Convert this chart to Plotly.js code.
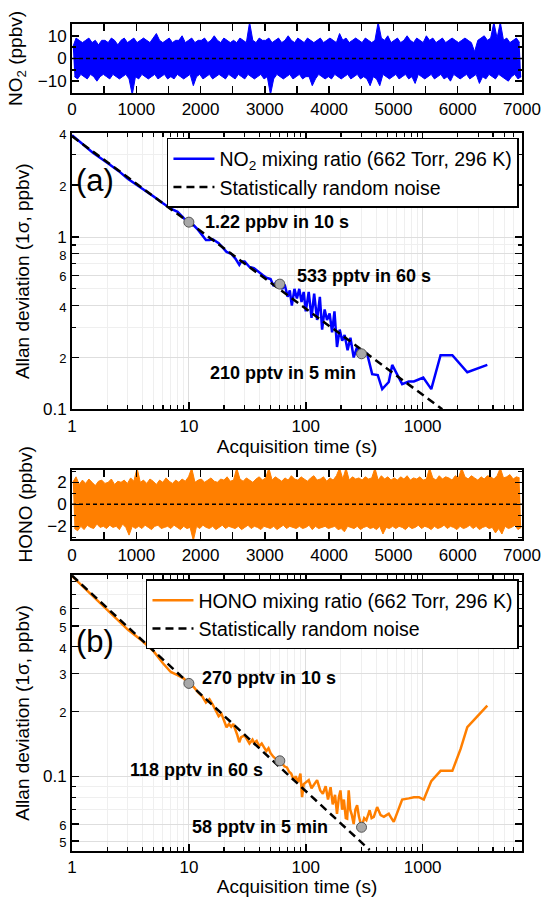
<!DOCTYPE html>
<html>
<head>
<meta charset="utf-8">
<script src="https://cdn.plot.ly/plotly-3.0.1.min.js"></script>
<style>
html,body{margin:0;padding:0;background:#fff;}
#chart{width:544px;height:897px;}
</style>
</head>
<body>
<div id="chart"></div>
<script>
// ---------- DATA ----------
// Time series envelopes (per 50 s bin: highest and lowest excursion), ppbv
const binSeconds = 50;
const no2High = [
5,9,8,7,8,9,7,8,6,8, 8,7,9,8,6,8,9,7,8,9, 7,8,9,8,7,9,11,8,7,8, 9,7,8,8,10,7,8,9,7,8,
8,9,7,8,10,8,7,9,8,7, 8,7,9,8,7,16,8,7,9,8, 8,9,7,8,9,7,8,10,8,7, 9,8,7,9,8,7,8,9,7,8,
9,8,7,11,8,9,7,8,9,8, 7,9,8,7,8,16,9,8,10,7, 8,9,7,8,10,8,7,9,8,7, 10,8,9,7,8,9,7,8,9,8,
7,8,9,8,7,3,8,9,10,8, 9,16,9,16,8,9,7,8,9,7];
const no2Low = [
-8,-9,-7,-8,-9,-7,-8,-10,-8,-7, -8,-9,-7,-8,-9,-8,-7,-9,-16,-8, -9,-7,-8,-9,-8,-7,-9,-8,-7,-9,
-8,-9,-7,-8,-9,-8,-7,-12,-8,-7, -9,-8,-7,-9,-8,-7,-8,-9,-7,-8, -9,-7,-8,-9,-7,-8,-9,-8,-7,-9,
-8,-16,-9,-7,-8,-9,-8,-7,-9,-8, -7,-9,-8,-8,-12,-9,-7,-8,-9,-8, -9,-7,-8,-9,-8,-7,-9,-8,-7,-9,
-8,-9,-12,-8,-9,-12,-7,-8,-9,-8, -7,-9,-8,-7,-9,-8,-11,-7,-8,-9, -8,-7,-9,-8,-7,-9,-8,-10,-7,-8,
-9,-8,-7,-9,-8,-7,-11,-8,-9,-7, -8,-9,-7,-8,-9,-10,-8,-7,-9,-8];
const honoHigh = [
2.0,2.5,1.8,2.2,1.9,2.3,2.0,1.7,2.1,2.2, 1.9,2.0,2.3,1.8,2.1,2.0,2.2,1.9,2.4,2.1,
3.3,2.0,2.2,1.9,2.3,2.1,1.8,2.2,2.0,2.4, 2.1,1.9,2.2,2.0,2.3,2.1,2.5,3.3,2.0,2.2,
2.3,2.0,2.2,2.4,2.1,2.0,2.3,2.2,2.5,2.1, 2.2,3.3,2.3,2.1,2.4,2.2,2.0,2.3,2.5,2.2,
2.4,3.3,2.2,2.5,2.3,2.1,2.4,2.2,2.6,2.3, 2.2,2.5,2.3,2.1,2.4,2.6,2.2,2.3,2.5,2.1,
2.4,2.2,2.6,3.3,2.3,3.3,2.2,2.5,2.3,2.4, 2.2,2.5,2.3,2.4,3.3,2.2,2.6,2.3,2.5,2.2,
2.4,2.2,2.5,2.3,2.6,2.2,2.4,2.3,2.5,2.2, 2.3,3.3,2.4,2.2,2.6,2.3,2.5,2.4,2.2,2.6,
2.4,3.3,2.5,2.3,2.6,2.4,2.2,2.5,2.3,2.6, 2.5,2.3,2.6,3.3,2.4,2.5,2.7,2.3,2.5,2.4];
const honoLow = [
-2.2,-2.4,-2.0,-2.3,-1.9,-2.1,-2.2,-1.8,-2.1,-2.0, -2.2,-1.9,-2.1,-2.0,-2.3,-1.8,-2.1,-2.8,-2.0,-2.2,
-2.0,-2.2,-1.9,-2.1,-2.3,-2.0,-1.9,-2.2,-2.1,-2.0, -2.2,-1.9,-2.1,-2.3,-2.0,-2.2,-2.1,-3.3,-2.0,-2.2,
-1.9,-2.1,-2.2,-2.0,-2.3,-2.1,-1.9,-2.2,-2.0,-2.1, -2.2,-2.0,-2.3,-2.1,-1.9,-2.2,-2.0,-2.1,-2.3,-2.0,
-2.1,-2.2,-2.0,-2.3,-2.1,-1.9,-2.2,-2.0,-2.1,-2.2, -2.0,-2.2,-2.1,-1.9,-2.3,-2.0,-2.2,-2.1,-2.0,-2.2,
-2.1,-2.0,-2.3,-2.2,-2.5,-2.0,-2.1,-2.2,-2.0,-2.3, -2.1,-2.0,-2.2,-2.1,-2.3,-2.0,-2.7,-2.1,-2.2,-2.0,
-2.2,-2.0,-2.1,-2.3,-2.0,-2.2,-2.1,-1.9,-2.2,-2.0, -2.1,-2.3,-2.0,-2.2,-2.1,-1.9,-2.2,-2.0,-2.1,-2.3,
-2.0,-2.2,-2.1,-1.9,-2.2,-2.0,-2.3,-2.1,-2.0,-2.2, -2.1,-2.6,-2.2,-2.7,-2.0,-2.2,-2.1,-1.9,-2.3,-2.1];

// Allan deviation, NO2 (ppbv) vs acquisition time (s)
const no2Tau = [1,1.5,2,2.5,3,4,5,6,7,8,9,10,11,12,13,14,15,16,18,20,21,23,25,27,28,30,33,36,40,43,46,50,53,56,60,63,66,70,73,76,80,84,88,92,96,100,106,112,118,125,132,138,145,152,160,168,176,185,195,205,215,228,241,257,275,290,300,335,370,413,451,513,549,600,668,760,841,1012,1185,1423,1795,2410,3575];
const no2Allan = [3.9,3.1,2.7,2.42,2.18,1.92,1.72,1.57,1.46,1.40,1.29,1.22,1.17,1.10,1.02,0.96,0.96,0.97,0.92,0.85,0.82,0.80,0.75,0.69,0.72,0.72,0.67,0.66,0.62,0.60,0.58,0.57,0.52,0.55,0.533,0.50,0.53,0.45,0.49,0.40,0.50,0.44,0.50,0.42,0.48,0.37,0.48,0.34,0.47,0.33,0.45,0.29,0.38,0.33,0.36,0.28,0.37,0.23,0.29,0.25,0.27,0.22,0.26,0.20,0.23,0.20,0.21,0.21,0.16,0.158,0.131,0.144,0.181,0.16,0.14,0.145,0.145,0.153,0.131,0.206,0.206,0.164,0.181];
const no2NoiseTau = [1, 1472];
const no2NoiseDev = [3.85, 0.1];
const no2MarkTau = [10, 60, 300];
const no2MarkDev = [1.22, 0.533, 0.210];

// Allan deviation, HONO (ppbv)
const honoTau = [1,1.5,2,2.5,3,4,5,6,7,8,9,10,11,12,13,14,15,16,17,18,19,20,21,22,23,24,25,26,27,28,30,31,33,35,36,38,40,42,44,46,48,50,53,56,60,63,66,69,72,75,79,82,86,90,93,96,100,106,112,118,125,133,140,148,155,163,170,178,185,192,198,205,212,220,226,233,240,248,257,266,275,285,300,316,330,352,366,382,395,408,437,466,490,513,540,566,620,668,760,841,930,1023,1185,1423,1795,2113,2410,3575];
const honoAllan = [0.85,0.69,0.59,0.53,0.48,0.425,0.38,0.335,0.305,0.295,0.285,0.27,0.26,0.245,0.235,0.22,0.228,0.215,0.20,0.19,0.195,0.18,0.169,0.175,0.17,0.175,0.165,0.155,0.144,0.152,0.155,0.15,0.142,0.148,0.143,0.146,0.138,0.142,0.136,0.131,0.135,0.128,0.123,0.12,0.118,0.114,0.111,0.110,0.105,0.103,0.096,0.100,0.094,0.103,0.080,0.092,0.094,0.096,0.088,0.092,0.096,0.086,0.083,0.09,0.078,0.089,0.074,0.082,0.067,0.08,0.086,0.07,0.078,0.064,0.0636,0.086,0.07,0.066,0.060,0.07,0.0734,0.065,0.058,0.064,0.0625,0.0696,0.064,0.0648,0.068,0.072,0.066,0.0648,0.066,0.067,0.064,0.0614,0.07,0.078,0.079,0.08,0.08,0.078,0.095,0.106,0.106,0.134,0.169,0.213];
const honoNoiseTau = [1, 352];
const honoNoiseDev = [0.855, 0.0455];
const honoMarkTau = [10, 60, 300];
const honoMarkDev = [0.27, 0.118, 0.058];

// Tick labels
const tsTicksX = [0,1000,2000,3000,4000,5000,6000,7000];
const logTicksX = [1,10,100,1000];
const logMinorX = [2,3,4,5,6,7,8,9,20,30,40,50,60,70,80,90,200,300,400,500,600,700,800,900,2000,3000,4000,5000,6000,7000];
const aTickVals = [0.1,0.2,0.4,0.6,0.8,1,2,4];
const aTickText = ['0.1','2','4','6','8','1','2','4'];
const aTickSmall = [false,true,true,true,true,false,true,true];
const aMinor = [0.3,0.5,0.7,0.9,3];
const bTickVals = [0.05,0.06,0.1,0.2,0.3,0.4,0.5,0.6];
const bTickText = ['5','6','0.1','2','3','4','5','6'];
const bTickSmall = [true,true,false,true,true,true,true,true];
const bMinor = [0.07,0.08,0.09,0.7,0.8];

// ---------- BUILD ----------
const FONT = 'Liberation Sans, Arial, sans-serif';
function binTimes(n, offset){ const t=[]; for(let i=0;i<n;i++) t.push(i*binSeconds + binSeconds*offset); return t; }
function labels(text, small){
  return text.map((t,i)=> small[i] ? '<span style="font-size:13px">'+t+'</span>' : t);
}
function band(high, low, color, xa, ya){
  return [
    {x:binTimes(low.length, 0.75), y:low, xaxis:xa, yaxis:ya, mode:'lines',
     line:{color:color, width:1, simplify:false}, showlegend:false, hoverinfo:'skip'},
    {x:binTimes(high.length, 0.25), y:high, xaxis:xa, yaxis:ya, mode:'lines', fill:'tonexty', fillcolor:color,
     line:{color:color, width:1, simplify:false}, showlegend:false, hoverinfo:'skip'}
  ];
}

const traces = [
  ...band(no2High, no2Low, '#0000ff', 'x', 'y'),
  {x:no2Tau, y:no2Allan, xaxis:'x2', yaxis:'y2', mode:'lines', line:{color:'#0000ff', width:2.5},
   name:'NO<sub>2</sub> mixing ratio (662 Torr, 296 K)', legend:'legend'},
  {x:no2NoiseTau, y:no2NoiseDev, xaxis:'x2', yaxis:'y2', mode:'lines', line:{color:'#000', width:2.5, dash:'8px,5px'},
   name:'Statistically random noise', legend:'legend'},
  {x:no2MarkTau, y:no2MarkDev, xaxis:'x2', yaxis:'y2', mode:'markers', marker:{size:10, color:'#a8a8a8', line:{color:'#555', width:1}}, showlegend:false},
  ...band(honoHigh, honoLow, '#ff7f00', 'x3', 'y3'),
  {x:honoTau, y:honoAllan, xaxis:'x4', yaxis:'y4', mode:'lines', line:{color:'#ff7f00', width:2.5},
   name:'HONO mixing ratio (662 Torr, 296 K)', legend:'legend2'},
  {x:honoNoiseTau, y:honoNoiseDev, xaxis:'x4', yaxis:'y4', mode:'lines', line:{color:'#000', width:2.5, dash:'8px,5px'},
   name:'Statistically random noise', legend:'legend2'},
  {x:honoMarkTau, y:honoMarkDev, xaxis:'x4', yaxis:'y4', mode:'markers', marker:{size:10, color:'#a8a8a8', line:{color:'#555', width:1}}, showlegend:false}
];

const baseAxis = {
  showline:true, linecolor:'#000', linewidth:2, mirror:'allticks',
  ticks:'inside', ticklen:7, tickwidth:1.5, tickcolor:'#000',
  zeroline:false, showgrid:false, tickfont:{size:17, color:'#000', family:FONT},
  title:{font:{size:19, color:'#000', family:FONT}}
};
function ax(extra){ return Object.assign({}, JSON.parse(JSON.stringify(baseAxis)), extra); }

const logGrid = {showgrid:true, gridcolor:'#dedede', gridwidth:1};
const logMinorStyle = (vals)=>({tickmode:'array', tickvals:vals, ticks:'inside', ticklen:4, tickwidth:1.2, tickcolor:'#000', showgrid:true, gridcolor:'#efefef', gridwidth:1});

const layout = {
  width:544, height:897,
  margin:{l:72, r:22, t:24, b:46},
  paper_bgcolor:'#fff', plot_bgcolor:'#fff',
  font:{family:FONT, color:'#000'},
  xaxis: ax({domain:[0,1], anchor:'y', range:[0,7000], tickmode:'array', tickvals:tsTicksX,
    minor:{dtick:500, ticks:'inside', ticklen:7, tickwidth:1.5, tickcolor:'#000'}}),
  yaxis: ax({domain:[0.9166,1], anchor:'x', range:[-15.2,15.2], tickmode:'array', tickvals:[-10,0,10],
    minor:{dtick:5, ticks:'inside', ticklen:4, tickcolor:'#000'},
    title:{text:'NO<sub>2</sub> (ppbv)', font:{size:19, family:FONT}, standoff:10}}),
  xaxis2: ax(Object.assign({domain:[0,1], anchor:'y2', type:'log', range:[0,3.85], tickmode:'array',
    tickvals:logTicksX, ticktext:logTicksX.map(String), minor:logMinorStyle(logMinorX),
    title:{text:'Acquisition time (s)', font:{size:19, family:FONT}, standoff:4}}, logGrid)),
  yaxis2: ax(Object.assign({domain:[0.5341,0.8678], anchor:'x2', type:'log', range:[-1, Math.log10(4)], tickmode:'array',
    tickvals:aTickVals, ticktext:labels(aTickText, aTickSmall), minor:logMinorStyle(aMinor),
    title:{text:'Allan deviation (1σ, ppbv)', font:{size:19, family:FONT}, standoff:8}}, logGrid)),
  xaxis3: ax({domain:[0,1], anchor:'y3', range:[0,7000], tickmode:'array', tickvals:tsTicksX,
    minor:{dtick:500, ticks:'inside', ticklen:7, tickwidth:1.5, tickcolor:'#000'}}),
  yaxis3: ax({domain:[0.3773,0.4611], anchor:'x3', range:[-3.15,3.15], tickmode:'array', tickvals:[-2,0,2],
    minor:{dtick:1, ticks:'inside', ticklen:4, tickcolor:'#000'},
    title:{text:'HONO (ppbv)', font:{size:19, family:FONT}, standoff:10}}),
  xaxis4: ax(Object.assign({domain:[0,1], anchor:'y4', type:'log', range:[0,3.85], tickmode:'array',
    tickvals:logTicksX, ticktext:logTicksX.map(String), minor:logMinorStyle(logMinorX),
    title:{text:'Acquisition time (s)', font:{size:19, family:FONT}, standoff:6}}, logGrid)),
  yaxis4: ax(Object.assign({domain:[0,0.3337], anchor:'x4', type:'log', range:[Math.log10(0.045), Math.log10(0.86)], tickmode:'array',
    tickvals:bTickVals, ticktext:labels(bTickText, bTickSmall), minor:logMinorStyle(bMinor),
    title:{text:'Allan deviation (1σ, ppbv)', font:{size:19, family:FONT}, standoff:8}}, logGrid)),
  legend:{x:0.211, y:0.8622, xanchor:'left', yanchor:'top', bgcolor:'#fff', bordercolor:'#000', borderwidth:1.5,
    itemwidth:41, traceorder:'normal', font:{size:19.5, family:FONT, color:'#000'}, tracegroupgap:0},
  legend2:{x:0.1644, y:0.3283, xanchor:'left', yanchor:'top', bgcolor:'#fff', bordercolor:'#000', borderwidth:1.5,
    itemwidth:41, traceorder:'normal', font:{size:19.5, family:FONT, color:'#000'}, tracegroupgap:0},
  shapes:[
    {type:'line', xref:'x domain', yref:'y', x0:0, x1:1, y0:0, y1:0, line:{color:'#000', width:1.5, dash:'4px,3px'}},
    {type:'line', xref:'x3 domain', yref:'y3', x0:0, x1:1, y0:0, y1:0, line:{color:'#000', width:1.5, dash:'4px,3px'}}
  ],
  annotations:[
    {xref:'x2 domain', yref:'y2 domain', x:0.005, y:0.83, xanchor:'left', yanchor:'middle', text:'(a)', showarrow:false, font:{size:31, family:FONT}},
    {xref:'x4 domain', yref:'y4 domain', x:0.005, y:0.76, xanchor:'left', yanchor:'middle', text:'(b)', showarrow:false, font:{size:31, family:FONT}},
    {xref:'x2', yref:'y2', x:1.1225, y:0.0846, xanchor:'left', yanchor:'middle', text:'<b>1.22 ppbv in 10 s</b>', showarrow:false, font:{size:18, family:FONT}},
    {xref:'x2', yref:'y2', x:1.911, y:-0.2236, xanchor:'left', yanchor:'middle', text:'<b>533 pptv in 60 s</b>', showarrow:false, font:{size:18, family:FONT}},
    {xref:'x2', yref:'y2', x:1.165, y:-0.7875, xanchor:'left', yanchor:'middle', text:'<b>210 pptv in 5 min</b>', showarrow:false, font:{size:18, family:FONT}},
    {xref:'x4', yref:'y4', x:1.097, y:-0.5417, xanchor:'left', yanchor:'middle', text:'<b>270 pptv in 10 s</b>', showarrow:false, font:{size:18, family:FONT}},
    {xref:'x4', yref:'y4', x:0.477, y:-0.972, xanchor:'left', yanchor:'middle', text:'<b>118 pptv in 60 s</b>', showarrow:false, font:{size:18, family:FONT}},
    {xref:'x4', yref:'y4', x:1.011, y:-1.235, xanchor:'left', yanchor:'middle', text:'<b>58 pptv in 5 min</b>', showarrow:false, font:{size:18, family:FONT}}
  ]
};

Plotly.newPlot('chart', traces, layout, {displayModeBar:false, staticPlot:true});
</script>
</body>
</html>
